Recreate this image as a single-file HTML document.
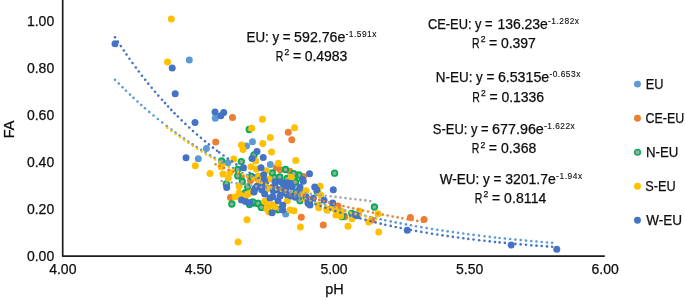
<!DOCTYPE html>
<html><head><meta charset="utf-8"><style>
html,body{margin:0;padding:0;background:#fff;}
body{width:685px;height:300px;overflow:hidden;}
svg{display:block;font-family:"Liberation Sans",sans-serif;will-change:transform;}
text{stroke:#0d0d0d;stroke-width:0.25px;}
</style></head><body>
<svg width="685" height="300" viewBox="0 0 685 300">

<g>
<circle cx="189.3" cy="60.0" r="3.5" fill="#5B9BD5"/>
<circle cx="215.3" cy="118.3" r="3.5" fill="#5B9BD5"/>
<circle cx="206.4" cy="148.4" r="3.5" fill="#5B9BD5"/>
<circle cx="198.3" cy="158.8" r="3.5" fill="#5B9BD5"/>
<circle cx="228.0" cy="162.7" r="3.5" fill="#5B9BD5"/>
<circle cx="252.5" cy="141.8" r="3.5" fill="#5B9BD5"/>
<circle cx="246.5" cy="146.0" r="3.5" fill="#5B9BD5"/>
<circle cx="270.3" cy="164.6" r="3.5" fill="#5B9BD5"/>
<circle cx="285.7" cy="214.0" r="3.5" fill="#5B9BD5"/>
</g>
<g>
<circle cx="232.5" cy="117.5" r="3.5" fill="#ED7D31"/>
<circle cx="288.3" cy="132.3" r="3.5" fill="#ED7D31"/>
<circle cx="291.8" cy="139.7" r="3.5" fill="#ED7D31"/>
<circle cx="215.7" cy="142.0" r="3.5" fill="#ED7D31"/>
<circle cx="289.8" cy="171.3" r="3.5" fill="#ED7D31"/>
<circle cx="303.5" cy="176.5" r="3.5" fill="#ED7D31"/>
<circle cx="276.3" cy="167.7" r="3.5" fill="#ED7D31"/>
<circle cx="280.3" cy="169.7" r="3.5" fill="#ED7D31"/>
<circle cx="241.3" cy="176.5" r="3.5" fill="#ED7D31"/>
<circle cx="230.5" cy="197.5" r="3.5" fill="#ED7D31"/>
<circle cx="277.3" cy="210.0" r="3.5" fill="#ED7D31"/>
<circle cx="301.3" cy="217.3" r="3.5" fill="#ED7D31"/>
<circle cx="338.0" cy="206.0" r="3.5" fill="#ED7D31"/>
<circle cx="323.3" cy="225.0" r="3.5" fill="#ED7D31"/>
<circle cx="344.7" cy="216.7" r="3.5" fill="#ED7D31"/>
<circle cx="372.0" cy="220.0" r="3.5" fill="#ED7D31"/>
<circle cx="410.4" cy="217.4" r="3.5" fill="#ED7D31"/>
<circle cx="424.0" cy="219.4" r="3.5" fill="#ED7D31"/>
<circle cx="250.5" cy="180.5" r="3.5" fill="#ED7D31"/>
</g>
<g>
<circle cx="249.2" cy="129.5" r="2.75" fill="#A5A5A5" stroke="#00B050" stroke-width="1.8"/>
<circle cx="221.6" cy="161.0" r="2.75" fill="#A5A5A5" stroke="#00B050" stroke-width="1.8"/>
<circle cx="254.0" cy="155.0" r="2.75" fill="#A5A5A5" stroke="#00B050" stroke-width="1.8"/>
<circle cx="285.5" cy="169.5" r="2.75" fill="#A5A5A5" stroke="#00B050" stroke-width="1.8"/>
<circle cx="334.6" cy="173.2" r="2.75" fill="#A5A5A5" stroke="#00B050" stroke-width="1.8"/>
<circle cx="299.0" cy="175.0" r="2.75" fill="#A5A5A5" stroke="#00B050" stroke-width="1.8"/>
<circle cx="294.5" cy="176.0" r="2.75" fill="#A5A5A5" stroke="#00B050" stroke-width="1.8"/>
<circle cx="287.0" cy="178.5" r="2.75" fill="#A5A5A5" stroke="#00B050" stroke-width="1.8"/>
<circle cx="295.5" cy="182.0" r="2.75" fill="#A5A5A5" stroke="#00B050" stroke-width="1.8"/>
<circle cx="241.3" cy="161.6" r="2.75" fill="#A5A5A5" stroke="#00B050" stroke-width="1.8"/>
<circle cx="237.7" cy="169.5" r="2.75" fill="#A5A5A5" stroke="#00B050" stroke-width="1.8"/>
<circle cx="237.7" cy="175.8" r="2.75" fill="#A5A5A5" stroke="#00B050" stroke-width="1.8"/>
<circle cx="242.3" cy="181.5" r="2.75" fill="#A5A5A5" stroke="#00B050" stroke-width="1.8"/>
<circle cx="247.7" cy="187.0" r="2.75" fill="#A5A5A5" stroke="#00B050" stroke-width="1.8"/>
<circle cx="272.3" cy="173.0" r="2.75" fill="#A5A5A5" stroke="#00B050" stroke-width="1.8"/>
<circle cx="293.7" cy="173.7" r="2.75" fill="#A5A5A5" stroke="#00B050" stroke-width="1.8"/>
<circle cx="274.3" cy="177.7" r="2.75" fill="#A5A5A5" stroke="#00B050" stroke-width="1.8"/>
<circle cx="279.7" cy="177.0" r="2.75" fill="#A5A5A5" stroke="#00B050" stroke-width="1.8"/>
<circle cx="263.7" cy="187.7" r="2.75" fill="#A5A5A5" stroke="#00B050" stroke-width="1.8"/>
<circle cx="226.3" cy="184.0" r="2.75" fill="#A5A5A5" stroke="#00B050" stroke-width="1.8"/>
<circle cx="245.0" cy="193.0" r="2.75" fill="#A5A5A5" stroke="#00B050" stroke-width="1.8"/>
<circle cx="231.8" cy="204.0" r="2.75" fill="#A5A5A5" stroke="#00B050" stroke-width="1.8"/>
<circle cx="249.5" cy="204.5" r="2.75" fill="#A5A5A5" stroke="#00B050" stroke-width="1.8"/>
<circle cx="253.5" cy="203.0" r="2.75" fill="#A5A5A5" stroke="#00B050" stroke-width="1.8"/>
<circle cx="257.8" cy="203.5" r="2.75" fill="#A5A5A5" stroke="#00B050" stroke-width="1.8"/>
<circle cx="261.5" cy="207.2" r="2.75" fill="#A5A5A5" stroke="#00B050" stroke-width="1.8"/>
<circle cx="266.5" cy="188.0" r="2.75" fill="#A5A5A5" stroke="#00B050" stroke-width="1.8"/>
<circle cx="295.3" cy="182.0" r="2.75" fill="#A5A5A5" stroke="#00B050" stroke-width="1.8"/>
<circle cx="296.0" cy="192.7" r="2.75" fill="#A5A5A5" stroke="#00B050" stroke-width="1.8"/>
<circle cx="300.0" cy="200.7" r="2.75" fill="#A5A5A5" stroke="#00B050" stroke-width="1.8"/>
<circle cx="258.0" cy="203.3" r="2.75" fill="#A5A5A5" stroke="#00B050" stroke-width="1.8"/>
<circle cx="252.7" cy="202.0" r="2.75" fill="#A5A5A5" stroke="#00B050" stroke-width="1.8"/>
<circle cx="261.3" cy="207.3" r="2.75" fill="#A5A5A5" stroke="#00B050" stroke-width="1.8"/>
<circle cx="278.7" cy="209.6" r="2.75" fill="#A5A5A5" stroke="#00B050" stroke-width="1.8"/>
<circle cx="317.3" cy="192.3" r="2.75" fill="#A5A5A5" stroke="#00B050" stroke-width="1.8"/>
<circle cx="374.4" cy="207.0" r="2.75" fill="#A5A5A5" stroke="#00B050" stroke-width="1.8"/>
<circle cx="351.7" cy="213.3" r="2.75" fill="#A5A5A5" stroke="#00B050" stroke-width="1.8"/>
<circle cx="342.0" cy="216.7" r="2.75" fill="#A5A5A5" stroke="#00B050" stroke-width="1.8"/>
<circle cx="251.5" cy="176.5" r="2.75" fill="#A5A5A5" stroke="#00B050" stroke-width="1.8"/>
<circle cx="259.5" cy="177.0" r="2.75" fill="#A5A5A5" stroke="#00B050" stroke-width="1.8"/>
</g>
<g>
<circle cx="171.3" cy="18.9" r="3.5" fill="#FFC000"/>
<circle cx="167.5" cy="62.0" r="3.5" fill="#FFC000"/>
<circle cx="262.5" cy="119.2" r="3.5" fill="#FFC000"/>
<circle cx="251.7" cy="128.3" r="3.5" fill="#FFC000"/>
<circle cx="294.6" cy="127.8" r="3.5" fill="#FFC000"/>
<circle cx="270.3" cy="137.5" r="3.5" fill="#FFC000"/>
<circle cx="195.3" cy="165.7" r="3.5" fill="#FFC000"/>
<circle cx="233.8" cy="159.0" r="3.5" fill="#FFC000"/>
<circle cx="221.2" cy="166.7" r="3.5" fill="#FFC000"/>
<circle cx="262.8" cy="143.5" r="3.5" fill="#FFC000"/>
<circle cx="241.5" cy="145.0" r="3.5" fill="#FFC000"/>
<circle cx="243.0" cy="149.5" r="3.5" fill="#FFC000"/>
<circle cx="271.5" cy="152.0" r="3.5" fill="#FFC000"/>
<circle cx="295.8" cy="160.5" r="3.5" fill="#FFC000"/>
<circle cx="291.4" cy="177.3" r="3.5" fill="#FFC000"/>
<circle cx="255.7" cy="161.0" r="3.5" fill="#FFC000"/>
<circle cx="278.3" cy="163.3" r="3.5" fill="#FFC000"/>
<circle cx="251.0" cy="166.7" r="3.5" fill="#FFC000"/>
<circle cx="256.3" cy="169.0" r="3.5" fill="#FFC000"/>
<circle cx="266.3" cy="170.7" r="3.5" fill="#FFC000"/>
<circle cx="269.0" cy="179.0" r="3.5" fill="#FFC000"/>
<circle cx="239.0" cy="186.5" r="3.5" fill="#FFC000"/>
<circle cx="265.7" cy="189.0" r="3.5" fill="#FFC000"/>
<circle cx="273.0" cy="189.0" r="3.5" fill="#FFC000"/>
<circle cx="282.3" cy="191.0" r="3.5" fill="#FFC000"/>
<circle cx="239.0" cy="193.0" r="3.5" fill="#FFC000"/>
<circle cx="248.3" cy="193.7" r="3.5" fill="#FFC000"/>
<circle cx="210.0" cy="173.5" r="3.5" fill="#FFC000"/>
<circle cx="223.0" cy="174.0" r="3.5" fill="#FFC000"/>
<circle cx="228.3" cy="178.0" r="3.5" fill="#FFC000"/>
<circle cx="230.0" cy="172.5" r="3.5" fill="#FFC000"/>
<circle cx="252.0" cy="192.0" r="3.5" fill="#FFC000"/>
<circle cx="235.0" cy="197.0" r="3.5" fill="#FFC000"/>
<circle cx="240.0" cy="195.0" r="3.5" fill="#FFC000"/>
<circle cx="245.5" cy="196.5" r="3.5" fill="#FFC000"/>
<circle cx="265.5" cy="201.5" r="3.5" fill="#FFC000"/>
<circle cx="267.0" cy="208.0" r="3.5" fill="#FFC000"/>
<circle cx="269.0" cy="212.0" r="3.5" fill="#FFC000"/>
<circle cx="265.0" cy="189.0" r="3.5" fill="#FFC000"/>
<circle cx="238.1" cy="242.1" r="3.5" fill="#FFC000"/>
<circle cx="259.3" cy="182.0" r="3.5" fill="#FFC000"/>
<circle cx="267.3" cy="188.7" r="3.5" fill="#FFC000"/>
<circle cx="306.0" cy="190.7" r="3.5" fill="#FFC000"/>
<circle cx="302.0" cy="193.3" r="3.5" fill="#FFC000"/>
<circle cx="287.3" cy="200.7" r="3.5" fill="#FFC000"/>
<circle cx="264.7" cy="201.3" r="3.5" fill="#FFC000"/>
<circle cx="268.0" cy="206.0" r="3.5" fill="#FFC000"/>
<circle cx="272.0" cy="204.7" r="3.5" fill="#FFC000"/>
<circle cx="290.0" cy="210.0" r="3.5" fill="#FFC000"/>
<circle cx="294.0" cy="210.7" r="3.5" fill="#FFC000"/>
<circle cx="267.3" cy="209.3" r="3.5" fill="#FFC000"/>
<circle cx="320.0" cy="186.3" r="3.5" fill="#FFC000"/>
<circle cx="320.7" cy="195.0" r="3.5" fill="#FFC000"/>
<circle cx="305.3" cy="199.0" r="3.5" fill="#FFC000"/>
<circle cx="318.7" cy="205.0" r="3.5" fill="#FFC000"/>
<circle cx="326.7" cy="209.0" r="3.5" fill="#FFC000"/>
<circle cx="334.7" cy="209.0" r="3.5" fill="#FFC000"/>
<circle cx="341.3" cy="211.0" r="3.5" fill="#FFC000"/>
<circle cx="300.4" cy="227.0" r="3.5" fill="#FFC000"/>
<circle cx="318.7" cy="207.7" r="3.5" fill="#FFC000"/>
<circle cx="327.3" cy="210.3" r="3.5" fill="#FFC000"/>
<circle cx="336.0" cy="215.0" r="3.5" fill="#FFC000"/>
<circle cx="339.3" cy="213.0" r="3.5" fill="#FFC000"/>
<circle cx="348.0" cy="226.3" r="3.5" fill="#FFC000"/>
<circle cx="340.7" cy="216.0" r="3.5" fill="#FFC000"/>
<circle cx="378.0" cy="213.7" r="3.5" fill="#FFC000"/>
<circle cx="359.3" cy="211.0" r="3.5" fill="#FFC000"/>
<circle cx="352.0" cy="218.7" r="3.5" fill="#FFC000"/>
<circle cx="368.7" cy="222.0" r="3.5" fill="#FFC000"/>
<circle cx="378.7" cy="232.0" r="3.5" fill="#FFC000"/>
<circle cx="247.0" cy="219.7" r="3.5" fill="#FFC000"/>
<circle cx="275.0" cy="206.7" r="3.5" fill="#FFC000"/>
<circle cx="258.0" cy="176.0" r="3.5" fill="#FFC000"/>
<circle cx="255.5" cy="178.0" r="3.5" fill="#FFC000"/>
</g>
<g>
<circle cx="115.0" cy="43.7" r="3.5" fill="#4472C4"/>
<circle cx="172.2" cy="68.0" r="3.5" fill="#4472C4"/>
<circle cx="175.2" cy="93.8" r="3.5" fill="#4472C4"/>
<circle cx="215.0" cy="112.0" r="3.5" fill="#4472C4"/>
<circle cx="223.7" cy="112.5" r="3.5" fill="#4472C4"/>
<circle cx="220.8" cy="115.8" r="3.5" fill="#4472C4"/>
<circle cx="195.0" cy="122.5" r="3.5" fill="#4472C4"/>
<circle cx="186.0" cy="157.7" r="3.5" fill="#4472C4"/>
<circle cx="257.0" cy="151.5" r="3.5" fill="#4472C4"/>
<circle cx="252.0" cy="158.5" r="3.5" fill="#4472C4"/>
<circle cx="263.2" cy="157.5" r="3.5" fill="#4472C4"/>
<circle cx="309.5" cy="173.8" r="3.5" fill="#4472C4"/>
<circle cx="302.5" cy="179.5" r="3.5" fill="#4472C4"/>
<circle cx="287.5" cy="183.0" r="3.5" fill="#4472C4"/>
<circle cx="243.5" cy="167.7" r="3.5" fill="#4472C4"/>
<circle cx="261.0" cy="167.7" r="3.5" fill="#4472C4"/>
<circle cx="263.7" cy="174.7" r="3.5" fill="#4472C4"/>
<circle cx="264.3" cy="180.3" r="3.5" fill="#4472C4"/>
<circle cx="275.0" cy="181.7" r="3.5" fill="#4472C4"/>
<circle cx="281.0" cy="181.7" r="3.5" fill="#4472C4"/>
<circle cx="257.0" cy="186.3" r="3.5" fill="#4472C4"/>
<circle cx="254.3" cy="190.3" r="3.5" fill="#4472C4"/>
<circle cx="261.7" cy="189.7" r="3.5" fill="#4472C4"/>
<circle cx="275.0" cy="187.0" r="3.5" fill="#4472C4"/>
<circle cx="279.0" cy="189.7" r="3.5" fill="#4472C4"/>
<circle cx="285.7" cy="189.0" r="3.5" fill="#4472C4"/>
<circle cx="292.3" cy="187.0" r="3.5" fill="#4472C4"/>
<circle cx="226.7" cy="187.5" r="3.5" fill="#4472C4"/>
<circle cx="241.5" cy="200.0" r="3.5" fill="#4472C4"/>
<circle cx="245.5" cy="201.5" r="3.5" fill="#4472C4"/>
<circle cx="249.5" cy="203.0" r="3.5" fill="#4472C4"/>
<circle cx="255.3" cy="188.0" r="3.5" fill="#4472C4"/>
<circle cx="263.3" cy="186.0" r="3.5" fill="#4472C4"/>
<circle cx="275.3" cy="182.7" r="3.5" fill="#4472C4"/>
<circle cx="283.3" cy="184.0" r="3.5" fill="#4472C4"/>
<circle cx="290.0" cy="183.3" r="3.5" fill="#4472C4"/>
<circle cx="303.3" cy="181.3" r="3.5" fill="#4472C4"/>
<circle cx="254.0" cy="192.0" r="3.5" fill="#4472C4"/>
<circle cx="264.7" cy="194.0" r="3.5" fill="#4472C4"/>
<circle cx="273.3" cy="190.7" r="3.5" fill="#4472C4"/>
<circle cx="282.0" cy="192.7" r="3.5" fill="#4472C4"/>
<circle cx="287.3" cy="194.7" r="3.5" fill="#4472C4"/>
<circle cx="295.3" cy="197.3" r="3.5" fill="#4472C4"/>
<circle cx="306.0" cy="196.7" r="3.5" fill="#4472C4"/>
<circle cx="272.7" cy="196.7" r="3.5" fill="#4472C4"/>
<circle cx="278.0" cy="200.7" r="3.5" fill="#4472C4"/>
<circle cx="282.7" cy="205.3" r="3.5" fill="#4472C4"/>
<circle cx="250.0" cy="202.7" r="3.5" fill="#4472C4"/>
<circle cx="308.0" cy="203.3" r="3.5" fill="#4472C4"/>
<circle cx="272.0" cy="212.7" r="3.5" fill="#4472C4"/>
<circle cx="282.7" cy="210.0" r="3.5" fill="#4472C4"/>
<circle cx="300.0" cy="187.0" r="3.5" fill="#4472C4"/>
<circle cx="314.7" cy="187.0" r="3.5" fill="#4472C4"/>
<circle cx="316.7" cy="189.7" r="3.5" fill="#4472C4"/>
<circle cx="333.3" cy="189.7" r="3.5" fill="#4472C4"/>
<circle cx="324.0" cy="200.3" r="3.5" fill="#4472C4"/>
<circle cx="313.3" cy="198.3" r="3.5" fill="#4472C4"/>
<circle cx="309.3" cy="202.3" r="3.5" fill="#4472C4"/>
<circle cx="332.7" cy="203.0" r="3.5" fill="#4472C4"/>
<circle cx="310.0" cy="205.0" r="3.5" fill="#4472C4"/>
<circle cx="355.3" cy="214.7" r="3.5" fill="#4472C4"/>
<circle cx="357.3" cy="215.7" r="3.5" fill="#4472C4"/>
<circle cx="407.3" cy="230.3" r="3.5" fill="#4472C4"/>
<circle cx="511.1" cy="245.1" r="3.5" fill="#4472C4"/>
<circle cx="556.8" cy="249.3" r="3.5" fill="#4472C4"/>
<circle cx="276.0" cy="190.0" r="3.5" fill="#4472C4"/>
<circle cx="291.0" cy="196.0" r="3.5" fill="#4472C4"/>
<circle cx="299.0" cy="190.0" r="3.5" fill="#4472C4"/>
<circle cx="270.0" cy="198.0" r="3.5" fill="#4472C4"/>
<circle cx="286.0" cy="188.0" r="3.5" fill="#4472C4"/>
<circle cx="280.0" cy="196.0" r="3.5" fill="#4472C4"/>
</g>
<g fill="#5B9BD5"><circle cx="115.00" cy="79.70" r="1.3"/><circle cx="118.80" cy="83.60" r="1.3"/><circle cx="122.50" cy="87.31" r="1.3"/><circle cx="126.00" cy="90.75" r="1.3"/><circle cx="130.00" cy="94.59" r="1.3"/><circle cx="133.50" cy="97.88" r="1.3"/><circle cx="137.50" cy="101.56" r="1.3"/><circle cx="141.30" cy="104.97" r="1.3"/><circle cx="145.00" cy="108.23" r="1.3"/><circle cx="149.25" cy="111.88" r="1.3"/><circle cx="153.55" cy="115.48" r="1.3"/><circle cx="157.89" cy="119.02" r="1.3"/><circle cx="162.27" cy="122.51" r="1.3"/><circle cx="166.70" cy="125.95" r="1.3"/><circle cx="171.40" cy="129.50" r="1.3"/><circle cx="175.50" cy="132.52" r="1.3"/><circle cx="179.60" cy="135.46" r="1.3"/><circle cx="184.00" cy="138.55" r="1.3"/><circle cx="188.30" cy="141.48" r="1.3"/><circle cx="192.60" cy="144.35" r="1.3"/><circle cx="196.70" cy="147.01" r="1.3"/><circle cx="201.12" cy="149.81" r="1.3"/><circle cx="205.57" cy="152.56" r="1.3"/><circle cx="210.05" cy="155.26" r="1.3"/><circle cx="214.56" cy="157.90" r="1.3"/><circle cx="219.11" cy="160.49" r="1.3"/><circle cx="223.68" cy="163.03" r="1.3"/><circle cx="228.28" cy="165.52" r="1.3"/><circle cx="232.91" cy="167.96" r="1.3"/><circle cx="237.56" cy="170.34" r="1.3"/><circle cx="242.24" cy="172.68" r="1.3"/><circle cx="246.95" cy="174.96" r="1.3"/><circle cx="251.68" cy="177.19" r="1.3"/><circle cx="256.43" cy="179.37" r="1.3"/><circle cx="261.21" cy="181.50" r="1.3"/><circle cx="266.01" cy="183.58" r="1.3"/><circle cx="270.83" cy="185.62" r="1.3"/><circle cx="275.67" cy="187.60" r="1.3"/><circle cx="280.53" cy="189.53" r="1.3"/><circle cx="285.40" cy="191.42" r="1.3"/><circle cx="290.30" cy="193.26" r="1.3"/><circle cx="295.21" cy="195.06" r="1.3"/><circle cx="300.14" cy="196.81" r="1.3"/><circle cx="305.09" cy="198.52" r="1.3"/><circle cx="310.04" cy="200.18" r="1.3"/><circle cx="315.02" cy="201.80" r="1.3"/><circle cx="320.01" cy="203.37" r="1.3"/><circle cx="325.00" cy="204.91" r="1.3"/><circle cx="330.02" cy="206.40" r="1.3"/><circle cx="335.04" cy="207.86" r="1.3"/><circle cx="340.08" cy="209.27" r="1.3"/><circle cx="345.12" cy="210.65" r="1.3"/><circle cx="350.18" cy="211.99" r="1.3"/><circle cx="355.24" cy="213.29" r="1.3"/><circle cx="360.32" cy="214.56" r="1.3"/><circle cx="365.40" cy="215.79" r="1.3"/><circle cx="370.49" cy="216.99" r="1.3"/><circle cx="375.59" cy="218.15" r="1.3"/><circle cx="380.70" cy="219.28" r="1.3"/><circle cx="385.30" cy="220.27" r="1.3"/><circle cx="390.70" cy="221.40" r="1.3"/><circle cx="395.70" cy="222.41" r="1.3"/><circle cx="400.70" cy="223.40" r="1.3"/><circle cx="406.00" cy="224.41" r="1.3"/><circle cx="410.90" cy="225.32" r="1.3"/><circle cx="416.00" cy="226.24" r="1.3"/><circle cx="421.30" cy="227.16" r="1.3"/><circle cx="426.70" cy="228.08" r="1.3"/><circle cx="432.00" cy="228.95" r="1.3"/><circle cx="437.30" cy="229.79" r="1.3"/><circle cx="442.49" cy="230.59" r="1.3"/><circle cx="447.69" cy="231.37" r="1.3"/><circle cx="452.89" cy="232.12" r="1.3"/><circle cx="458.09" cy="232.86" r="1.3"/><circle cx="463.30" cy="233.57" r="1.3"/><circle cx="468.30" cy="234.23" r="1.3"/><circle cx="473.50" cy="234.90" r="1.3"/><circle cx="479.00" cy="235.58" r="1.3"/><circle cx="484.60" cy="236.26" r="1.3"/><circle cx="489.75" cy="236.86" r="1.3"/><circle cx="495.00" cy="237.45" r="1.3"/><circle cx="499.60" cy="237.96" r="1.3"/><circle cx="504.87" cy="238.52" r="1.3"/><circle cx="510.15" cy="239.07" r="1.3"/><circle cx="515.42" cy="239.60" r="1.3"/><circle cx="520.70" cy="240.12" r="1.3"/><circle cx="526.00" cy="240.62" r="1.3"/><circle cx="531.30" cy="241.10" r="1.3"/><circle cx="536.50" cy="241.56" r="1.3"/><circle cx="541.70" cy="242.01" r="1.3"/><circle cx="547.00" cy="242.45" r="1.3"/><circle cx="552.10" cy="242.87" r="1.3"/></g>
<polyline points="215.70,164.30 217.78,165.20 219.87,166.10 221.95,166.98 224.03,167.86 226.11,168.72 228.20,169.58 230.28,170.43 232.36,171.28 234.45,172.11 236.53,172.94 238.61,173.76 240.70,174.57 242.78,175.37 244.86,176.16 246.94,176.95 249.03,177.73 251.11,178.50 253.19,179.26 255.28,180.02 257.36,180.76 259.44,181.51 261.53,182.24 263.61,182.97 265.69,183.69 267.77,184.40 269.86,185.10 271.94,185.80 274.02,186.49 276.11,187.18 278.19,187.86 280.27,188.53 282.36,189.19 284.44,189.85 286.52,190.51 288.61,191.15 290.69,191.79 292.77,192.42 294.85,193.05 296.94,193.67 299.02,194.29 301.10,194.90 303.19,195.50 305.27,196.09 307.35,196.69 309.44,197.27 311.52,197.85 313.60,198.42 315.68,198.99 317.77,199.55 319.85,200.11 321.93,200.66 324.02,201.21 326.10,201.75 328.18,202.29 330.26,202.82 332.35,203.34 334.43,203.86 336.51,204.38 338.60,204.89 340.68,205.39 342.76,205.89 344.85,206.39 346.93,206.88 349.01,207.36 351.10,207.84 353.18,208.32 355.26,208.79 357.34,209.26 359.43,209.72 361.51,210.18 363.59,210.63 365.68,211.08 367.76,211.52 369.84,211.96 371.92,212.40 374.01,212.83 376.09,213.25 378.17,213.68 380.26,214.10 382.34,214.51 384.42,214.92 386.51,215.33 388.59,215.73 390.67,216.13 392.75,216.52 394.84,216.91 396.92,217.30 399.00,217.68 401.09,218.06 403.17,218.44 405.25,218.81 407.34,219.18 409.42,219.54 411.50,219.91 413.58,220.26 415.67,220.62 417.75,220.97 419.83,221.32 421.92,221.66 424.00,222.00" fill="none" stroke="#ED7D31" stroke-width="2.6" stroke-linecap="round" stroke-dasharray="0 5.02" stroke-dashoffset="0.92"/>
<polyline points="221.70,181.00 223.19,181.24 224.68,181.47 226.17,181.71 227.66,181.95 229.14,182.18 230.63,182.41 232.12,182.65 233.61,182.88 235.10,183.11 236.59,183.34 238.08,183.57 239.57,183.80 241.06,184.02 242.55,184.25 244.03,184.48 245.52,184.70 247.01,184.93 248.50,185.15 249.99,185.37 251.48,185.59 252.97,185.81 254.46,186.03 255.95,186.25 257.44,186.47 258.93,186.69 260.41,186.91 261.90,187.12 263.39,187.34 264.88,187.56 266.37,187.77 267.86,187.98 269.35,188.20 270.84,188.41 272.33,188.62 273.81,188.83 275.30,189.04 276.79,189.25 278.28,189.45 279.77,189.66 281.26,189.87 282.75,190.07 284.24,190.28 285.73,190.48 287.22,190.69 288.71,190.89 290.19,191.09 291.68,191.29 293.17,191.49 294.66,191.69 296.15,191.89 297.64,192.09 299.13,192.29 300.62,192.49 302.11,192.68 303.60,192.88 305.08,193.07 306.57,193.27 308.06,193.46 309.55,193.66 311.04,193.85 312.53,194.04 314.02,194.23 315.51,194.42 317.00,194.61 318.49,194.80 319.97,194.99 321.46,195.17 322.95,195.36 324.44,195.55 325.93,195.73 327.42,195.92 328.91,196.10 330.40,196.29 331.89,196.47 333.38,196.65 334.86,196.83 336.35,197.01 337.84,197.19 339.33,197.37 340.82,197.55 342.31,197.73 343.80,197.91 345.29,198.09 346.78,198.26 348.27,198.44 349.75,198.61 351.24,198.79 352.73,198.96 354.22,199.13 355.71,199.31 357.20,199.48 358.69,199.65 360.18,199.82 361.67,199.99 363.16,200.16 364.64,200.33 366.13,200.50 367.62,200.67 369.11,200.83 370.60,201.00" fill="none" stroke="#A5A5A5" stroke-width="2.6" stroke-linecap="round" stroke-dasharray="0 5.0" stroke-dashoffset="0.00"/>
<polyline points="167.30,127.70 169.41,129.30 171.51,130.88 173.62,132.44 175.73,133.99 177.84,135.51 179.94,137.01 182.05,138.50 184.16,139.96 186.26,141.41 188.37,142.84 190.48,144.25 192.58,145.64 194.69,147.02 196.80,148.38 198.91,149.72 201.01,151.05 203.12,152.36 205.23,153.65 207.33,154.93 209.44,156.19 211.55,157.43 213.65,158.66 215.76,159.87 217.87,161.07 219.98,162.25 222.08,163.42 224.19,164.58 226.30,165.72 228.40,166.84 230.51,167.95 232.62,169.05 234.72,170.13 236.83,171.20 238.94,172.26 241.05,173.30 243.15,174.33 245.26,175.35 247.37,176.35 249.47,177.35 251.58,178.32 253.69,179.29 255.79,180.25 257.90,181.19 260.01,182.12 262.12,183.04 264.22,183.95 266.33,184.85 268.44,185.73 270.54,186.61 272.65,187.47 274.76,188.32 276.86,189.16 278.97,190.00 281.08,190.82 283.19,191.63 285.29,192.43 287.40,193.22 289.51,194.00 291.61,194.77 293.72,195.53 295.83,196.28 297.93,197.03 300.04,197.76 302.15,198.48 304.25,199.20 306.36,199.90 308.47,200.60 310.58,201.29 312.68,201.97 314.79,202.64 316.90,203.30 319.00,203.96 321.11,204.60 323.22,205.24 325.33,205.87 327.43,206.49 329.54,207.11 331.65,207.71 333.75,208.31 335.86,208.91 337.97,209.49 340.07,210.07 342.18,210.64 344.29,211.20 346.39,211.75 348.50,212.30 350.61,212.85 352.72,213.38 354.82,213.91 356.93,214.43 359.04,214.94 361.14,215.45 363.25,215.96 365.36,216.45 367.47,216.94 369.57,217.43 371.68,217.90 373.79,218.37 375.89,218.84 378.00,219.30" fill="none" stroke="#FFC000" stroke-width="2.6" stroke-linecap="round" stroke-dasharray="0 5.22" stroke-dashoffset="0.00"/>
<g fill="#4472C4"><circle cx="115.00" cy="37.20" r="1.3"/><circle cx="117.88" cy="41.67" r="1.3"/><circle cx="120.80" cy="46.11" r="1.3"/><circle cx="123.80" cy="50.57" r="1.3"/><circle cx="126.50" cy="54.51" r="1.3"/><circle cx="129.48" cy="58.77" r="1.3"/><circle cx="132.50" cy="62.99" r="1.3"/><circle cx="135.80" cy="67.50" r="1.3"/><circle cx="138.80" cy="71.51" r="1.3"/><circle cx="142.00" cy="75.70" r="1.3"/><circle cx="145.20" cy="79.79" r="1.3"/><circle cx="148.30" cy="83.66" r="1.3"/><circle cx="151.70" cy="87.81" r="1.3"/><circle cx="155.00" cy="91.74" r="1.3"/><circle cx="158.30" cy="95.59" r="1.3"/><circle cx="162.00" cy="99.79" r="1.3"/><circle cx="165.00" cy="103.11" r="1.3"/><circle cx="168.14" cy="106.52" r="1.3"/><circle cx="171.32" cy="109.89" r="1.3"/><circle cx="174.54" cy="113.23" r="1.3"/><circle cx="177.80" cy="116.52" r="1.3"/><circle cx="181.70" cy="120.37" r="1.3"/><circle cx="185.40" cy="123.92" r="1.3"/><circle cx="189.20" cy="127.48" r="1.3"/><circle cx="193.00" cy="130.93" r="1.3"/><circle cx="197.00" cy="134.47" r="1.3"/><circle cx="200.90" cy="137.83" r="1.3"/><circle cx="205.00" cy="141.25" r="1.3"/><circle cx="208.90" cy="144.42" r="1.3"/><circle cx="213.00" cy="147.66" r="1.3"/><circle cx="217.00" cy="150.73" r="1.3"/><circle cx="219.20" cy="152.38" r="1.3"/><circle cx="223.50" cy="155.53" r="1.3"/><circle cx="227.80" cy="158.58" r="1.3"/><circle cx="232.00" cy="161.48" r="1.3"/><circle cx="236.35" cy="164.38" r="1.3"/><circle cx="240.74" cy="167.23" r="1.3"/><circle cx="245.16" cy="170.01" r="1.3"/><circle cx="249.63" cy="172.72" r="1.3"/><circle cx="254.14" cy="175.38" r="1.3"/><circle cx="258.68" cy="177.97" r="1.3"/><circle cx="263.26" cy="180.49" r="1.3"/><circle cx="267.87" cy="182.96" r="1.3"/><circle cx="272.51" cy="185.36" r="1.3"/><circle cx="277.19" cy="187.70" r="1.3"/><circle cx="281.90" cy="189.97" r="1.3"/><circle cx="286.64" cy="192.18" r="1.3"/><circle cx="291.40" cy="194.34" r="1.3"/><circle cx="296.19" cy="196.43" r="1.3"/><circle cx="301.01" cy="198.46" r="1.3"/><circle cx="305.85" cy="200.43" r="1.3"/><circle cx="310.72" cy="202.35" r="1.3"/><circle cx="315.61" cy="204.20" r="1.3"/><circle cx="320.52" cy="206.00" r="1.3"/><circle cx="325.45" cy="207.75" r="1.3"/><circle cx="330.39" cy="209.44" r="1.3"/><circle cx="335.36" cy="211.08" r="1.3"/><circle cx="340.34" cy="212.67" r="1.3"/><circle cx="345.34" cy="214.20" r="1.3"/><circle cx="350.35" cy="215.69" r="1.3"/><circle cx="355.38" cy="217.13" r="1.3"/><circle cx="360.42" cy="218.52" r="1.3"/><circle cx="365.47" cy="219.86" r="1.3"/><circle cx="370.54" cy="221.16" r="1.3"/><circle cx="375.61" cy="222.42" r="1.3"/><circle cx="380.70" cy="223.63" r="1.3"/><circle cx="385.30" cy="224.69" r="1.3"/><circle cx="390.70" cy="225.89" r="1.3"/><circle cx="395.70" cy="226.97" r="1.3"/><circle cx="400.70" cy="228.00" r="1.3"/><circle cx="405.79" cy="229.02" r="1.3"/><circle cx="410.89" cy="230.00" r="1.3"/><circle cx="416.00" cy="230.94" r="1.3"/><circle cx="421.30" cy="231.89" r="1.3"/><circle cx="426.70" cy="232.82" r="1.3"/><circle cx="432.00" cy="233.70" r="1.3"/><circle cx="437.30" cy="234.54" r="1.3"/><circle cx="442.49" cy="235.34" r="1.3"/><circle cx="447.69" cy="236.11" r="1.3"/><circle cx="452.89" cy="236.85" r="1.3"/><circle cx="458.09" cy="237.56" r="1.3"/><circle cx="463.30" cy="238.25" r="1.3"/><circle cx="468.30" cy="238.89" r="1.3"/><circle cx="473.50" cy="239.53" r="1.3"/><circle cx="479.20" cy="240.20" r="1.3"/><circle cx="484.50" cy="240.80" r="1.3"/><circle cx="489.70" cy="241.37" r="1.3"/><circle cx="495.00" cy="241.93" r="1.3"/><circle cx="499.60" cy="242.40" r="1.3"/><circle cx="504.87" cy="242.92" r="1.3"/><circle cx="510.15" cy="243.42" r="1.3"/><circle cx="515.42" cy="243.90" r="1.3"/><circle cx="520.70" cy="244.36" r="1.3"/><circle cx="526.00" cy="244.81" r="1.3"/><circle cx="531.30" cy="245.24" r="1.3"/><circle cx="536.50" cy="245.65" r="1.3"/><circle cx="541.70" cy="246.04" r="1.3"/><circle cx="547.00" cy="246.42" r="1.3"/><circle cx="552.10" cy="246.78" r="1.3"/></g>
<circle cx="215.6" cy="164.3" r="1.3" fill="#ED7D31"/>
<path d="M62.7,0 V256.1 H604.8" fill="none" stroke="#1e1e1e" stroke-width="1.7" stroke-linejoin="round"/>
<text x="54.2" y="260.5" font-size="14" text-anchor="end" fill="#0d0d0d">0.00</text>
<text x="54.2" y="213.7" font-size="14" text-anchor="end" fill="#0d0d0d">0.20</text>
<text x="54.2" y="166.8" font-size="14" text-anchor="end" fill="#0d0d0d">0.40</text>
<text x="54.2" y="120.0" font-size="14" text-anchor="end" fill="#0d0d0d">0.60</text>
<text x="54.2" y="73.1" font-size="14" text-anchor="end" fill="#0d0d0d">0.80</text>
<text x="54.2" y="26.3" font-size="14" text-anchor="end" fill="#0d0d0d">1.00</text>
<text x="62.8" y="273.8" font-size="14" text-anchor="middle" fill="#0d0d0d">4.00</text>
<text x="198.4" y="273.8" font-size="14" text-anchor="middle" fill="#0d0d0d">4.50</text>
<text x="334.0" y="273.8" font-size="14" text-anchor="middle" fill="#0d0d0d">5.00</text>
<text x="469.6" y="273.8" font-size="14" text-anchor="middle" fill="#0d0d0d">5.50</text>
<text x="605.2" y="273.8" font-size="14" text-anchor="middle" fill="#0d0d0d">6.00</text>
<text x="334.4" y="293.9" font-size="14.5" text-anchor="middle" fill="#0d0d0d">pH</text>
<text transform="translate(14.4,129.5) rotate(-90)" x="0" y="0" font-size="14.5" text-anchor="middle" fill="#0d0d0d">FA</text>
<circle cx="637.5" cy="84.1" r="3.45" fill="#5B9BD5"/>
<text x="645.76" y="88.8" font-size="14.4" textLength="17.74" lengthAdjust="spacingAndGlyphs" fill="#0d0d0d">EU</text>
<circle cx="637.5" cy="118.2" r="3.45" fill="#ED7D31"/>
<text x="645.54" y="122.7" font-size="14.4" textLength="38.76" lengthAdjust="spacingAndGlyphs" fill="#0d0d0d">CE-EU</text>
<circle cx="637.5" cy="152.3" r="2.85" fill="#A5A5A5" stroke="#00B050" stroke-width="1.4"/>
<text x="645.92" y="156.7" font-size="14.4" textLength="32.38" lengthAdjust="spacingAndGlyphs" fill="#0d0d0d">N-EU</text>
<circle cx="637.5" cy="186.3" r="3.45" fill="#FFC000"/>
<text x="645.34" y="190.6" font-size="14.4" textLength="30.36" lengthAdjust="spacingAndGlyphs" fill="#0d0d0d">S-EU</text>
<circle cx="637.5" cy="220.2" r="3.45" fill="#4472C4"/>
<text x="646.14" y="224.7" font-size="14.4" textLength="35.86" lengthAdjust="spacingAndGlyphs" fill="#0d0d0d">W-EU</text>
<text x="246.59" y="42.0" font-size="14.0" textLength="44.01" lengthAdjust="spacingAndGlyphs" fill="#0d0d0d">EU: y =</text><text x="294.10" y="42.0" font-size="14.0" textLength="51.30" lengthAdjust="spacingAndGlyphs" fill="#0d0d0d">592.76e</text><text x="345.60" y="36.90" font-size="8.4" textLength="30.80" lengthAdjust="spacing" fill="#0d0d0d" style="stroke-width:0.12px">-1.591x</text><text x="275.80" y="61.199999999999996" font-size="14.0" textLength="7.6" lengthAdjust="spacingAndGlyphs" fill="#0d0d0d">R</text><text x="284.60" y="55.40" font-size="8.6" fill="#0d0d0d">2</text><text x="292.90" y="61.199999999999996" font-size="14.0" textLength="54.30" lengthAdjust="spacing" fill="#0d0d0d">= 0.4983</text>
<text x="427.96" y="28.7" font-size="14.0" textLength="64.64" lengthAdjust="spacingAndGlyphs" fill="#0d0d0d">CE-EU: y =</text><text x="497.40" y="28.7" font-size="14.0" textLength="50.40" lengthAdjust="spacingAndGlyphs" fill="#0d0d0d">136.23e</text><text x="548.00" y="23.60" font-size="8.4" textLength="31.00" lengthAdjust="spacing" fill="#0d0d0d" style="stroke-width:0.12px">-1.282x</text><text x="472.00" y="47.5" font-size="14.0" textLength="7.6" lengthAdjust="spacingAndGlyphs" fill="#0d0d0d">R</text><text x="480.80" y="41.70" font-size="8.6" fill="#0d0d0d">2</text><text x="489.10" y="47.5" font-size="14.0" textLength="46.70" lengthAdjust="spacing" fill="#0d0d0d">= 0.397</text>
<text x="435.85" y="82.39999999999999" font-size="14.0" textLength="58.55" lengthAdjust="spacingAndGlyphs" fill="#0d0d0d">N-EU: y =</text><text x="497.90" y="82.39999999999999" font-size="14.0" textLength="51.30" lengthAdjust="spacingAndGlyphs" fill="#0d0d0d">6.5315e</text><text x="549.40" y="77.30" font-size="8.4" textLength="31.00" lengthAdjust="spacing" fill="#0d0d0d" style="stroke-width:0.12px">-0.653x</text><text x="472.30" y="101.5" font-size="14.0" textLength="7.6" lengthAdjust="spacingAndGlyphs" fill="#0d0d0d">R</text><text x="481.10" y="95.70" font-size="8.6" fill="#0d0d0d">2</text><text x="489.40" y="101.5" font-size="14.0" textLength="54.70" lengthAdjust="spacing" fill="#0d0d0d">= 0.1336</text>
<text x="432.86" y="134.3" font-size="14.0" textLength="55.84" lengthAdjust="spacingAndGlyphs" fill="#0d0d0d">S-EU: y =</text><text x="492.10" y="134.3" font-size="14.0" textLength="51.70" lengthAdjust="spacingAndGlyphs" fill="#0d0d0d">677.96e</text><text x="544.00" y="129.20" font-size="8.4" textLength="30.80" lengthAdjust="spacing" fill="#0d0d0d" style="stroke-width:0.12px">-1.622x</text><text x="471.70" y="153.3" font-size="14.0" textLength="7.6" lengthAdjust="spacingAndGlyphs" fill="#0d0d0d">R</text><text x="480.50" y="147.50" font-size="8.6" fill="#0d0d0d">2</text><text x="488.80" y="153.3" font-size="14.0" textLength="47.50" lengthAdjust="spacing" fill="#0d0d0d">= 0.368</text>
<text x="439.64" y="184.10000000000002" font-size="14.0" textLength="61.76" lengthAdjust="spacingAndGlyphs" fill="#0d0d0d">W-EU: y =</text><text x="505.20" y="184.10000000000002" font-size="14.0" textLength="50.60" lengthAdjust="spacingAndGlyphs" fill="#0d0d0d">3201.7e</text><text x="556.00" y="179.00" font-size="8.4" textLength="26.30" lengthAdjust="spacing" fill="#0d0d0d" style="stroke-width:0.12px">-1.94x</text><text x="474.80" y="202.9" font-size="14.0" textLength="7.6" lengthAdjust="spacingAndGlyphs" fill="#0d0d0d">R</text><text x="483.60" y="197.10" font-size="8.6" fill="#0d0d0d">2</text><text x="491.90" y="202.9" font-size="14.0" textLength="54.40" lengthAdjust="spacing" fill="#0d0d0d">= 0.8114</text>
</svg></body></html>
